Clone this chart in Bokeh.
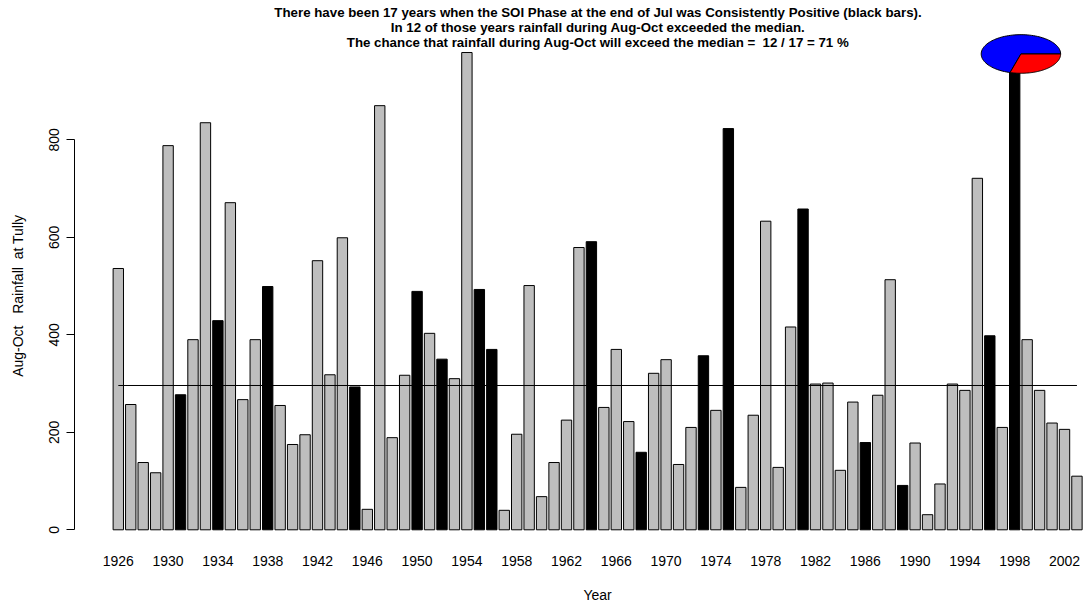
import numpy as np
from bokeh.plotting import figure
from bokeh.models import ColumnDataSource, FixedTicker, Label, Range1d, LinearAxis
from bokeh.embed import file_html
from bokeh.resources import INLINE

# ---------------- data ----------------
years = list(range(1926, 2004))
rainfall = [
    536, 257, 138, 117, 788, 277, 390, 835, 429, 671,   # 1926-1935
    267, 390, 499, 255, 175, 195, 552, 318, 599, 293,   # 1936-1945
    42, 870, 189, 317, 489, 403, 350, 310, 979, 493,    # 1946-1955
    370, 40, 196, 501, 68, 138, 225, 579, 591, 251,     # 1956-1965
    370, 222, 159, 321, 349, 134, 210, 357, 245, 823,   # 1966-1975
    87, 235, 633, 128, 416, 658, 299, 301, 122, 262,    # 1976-1985
    179, 276, 513, 91, 178, 31, 94, 299, 286, 721,      # 1986-1995
    398, 210, 960, 390, 286, 219, 206, 110,             # 1996-2003
]
positive_years = [1931, 1934, 1938, 1945, 1950, 1952, 1955, 1956, 1964,
                  1968, 1973, 1975, 1981, 1986, 1989, 1996, 1998]
x_tick_years = list(range(1926, 2003, 4))
y_ticks = [0, 200, 400, 600, 800]

median = float(np.median(rainfall))
n_pos = len(positive_years)
n_exceed = sum(1 for y, r in zip(years, rainfall) if y in positive_years and r > median)
pct = int(round(100.0 * n_exceed / n_pos))

NB = "\u00a0"
title_lines = [
    f"There have been {n_pos} years when the SOI Phase at the end of Jul was Consistently Positive (black bars).",
    f"In {n_exceed} of those years rainfall during Aug-Oct exceeded the median.",
    f"The chance that rainfall during Aug-Oct will exceed the median ={NB} {n_exceed} / {n_pos} = {pct} %",
]
x_label = "Year"
y_label = f"Aug-Oct{NB}{NB} Rainfall{NB} at Tully"

# ---------------- figure ----------------
W, H = 1083, 608
BORDER_L, BORDER_B = 74, 63
p = figure(width=W, height=H, output_backend="svg", toolbar_location=None,
           x_range=Range1d(1922.482, 2003.526), y_range=Range1d(-32.2, 1085.7),
           min_border_left=BORDER_L, min_border_right=0, min_border_top=0,
           min_border_bottom=BORDER_B, title=None)
p.outline_line_color = None
p.xgrid.visible = False
p.ygrid.visible = False
p.background_fill_color = "white"
p.border_fill_color = "white"

colors = ["black" if y in positive_years else "#BEBEBE" for y in years]
src = ColumnDataSource(dict(year=years, rain=rainfall, color=colors))
p.vbar(x="year", top="rain", bottom=0, width=1 / 1.2, fill_color="color",
       line_color="black", line_width=1, source=src)

# median line from first to last bar centre
p.line(x=[years[0], years[-1]], y=[median, median], line_color="black", line_width=1)

# pie (ellipse in screen space)
pie_cx, pie_cy = 1998.5, 976.0
pie_rx, pie_ry = 3.19, 39.6
fractions = [n_exceed / n_pos, 1 - n_exceed / n_pos]
pie_colors = ["#0000FF", "#FF0000"]
start = 0.0
xs, ys = [], []
for f in fractions:
    ang = np.linspace(start, start + 2 * np.pi * f, 90)
    xs.append([pie_cx] + list(pie_cx + pie_rx * np.cos(ang)) + [pie_cx])
    ys.append([pie_cy] + list(pie_cy + pie_ry * np.sin(ang)) + [pie_cy])
    start += 2 * np.pi * f
p.patches(xs, ys, fill_color=pie_colors, line_color="black", line_width=1)

# axes
FONT = "Liberation Sans"
xa = p.xaxis[0]
xa.ticker = FixedTicker(ticks=x_tick_years)
xa.axis_line_color = None
xa.major_tick_line_color = None
xa.minor_tick_line_color = None
xa.major_tick_out = 0
xa.major_label_standoff = 10
xa.major_label_text_font = FONT
xa.major_label_text_font_size = "14px"
xa.major_label_text_color = "black"

ya = p.yaxis[0]
ya.ticker = FixedTicker(ticks=y_ticks)
ya.bounds = (0, 800)
ya.axis_line_color = "black"
ya.major_tick_line_color = "black"
ya.major_tick_out = 8
ya.major_tick_in = 0
ya.minor_tick_line_color = None
ya.major_label_orientation = "vertical"
ya.major_label_standoff = 7
ya.major_label_text_font = FONT
ya.major_label_text_font_size = "14px"
ya.major_label_text_color = "black"

# axis titles: outer label-only axes so the titles sit where the original has them
X_TITLE_AT, Y_TITLE_AT = 1964.5, 480
xt = LinearAxis(ticker=FixedTicker(ticks=[X_TITLE_AT]),
                major_label_overrides={X_TITLE_AT: x_label},
                axis_line_color=None, major_tick_line_color=None, minor_tick_line_color=None,
                major_tick_out=0, major_label_standoff=18,
                major_label_text_font=FONT, major_label_text_font_size="14px",
                major_label_text_color="black")
p.add_layout(xt, "below")
yt = LinearAxis(ticker=FixedTicker(ticks=[Y_TITLE_AT]),
                major_label_overrides={Y_TITLE_AT: y_label},
                axis_line_color=None, major_tick_line_color=None, minor_tick_line_color=None,
                major_tick_out=0, major_label_standoff=20, major_label_orientation="vertical",
                major_label_text_font=FONT, major_label_text_font_size="14px",
                major_label_text_color="black")
p.add_layout(yt, "left")

# titles (screen units relative to the frame)
frame_h = H - BORDER_B
for i, txt in enumerate(title_lines):
    p.add_layout(Label(x=523.5, y=frame_h - 12.0 - 14.8 * i, x_units="screen", y_units="screen",
                       text=txt, text_align="center", text_baseline="middle",
                       text_font=FONT, text_font_size="13.3px", text_font_style="bold",
                       text_color="black"))

open("out.html", "w").write(file_html(p, INLINE))
